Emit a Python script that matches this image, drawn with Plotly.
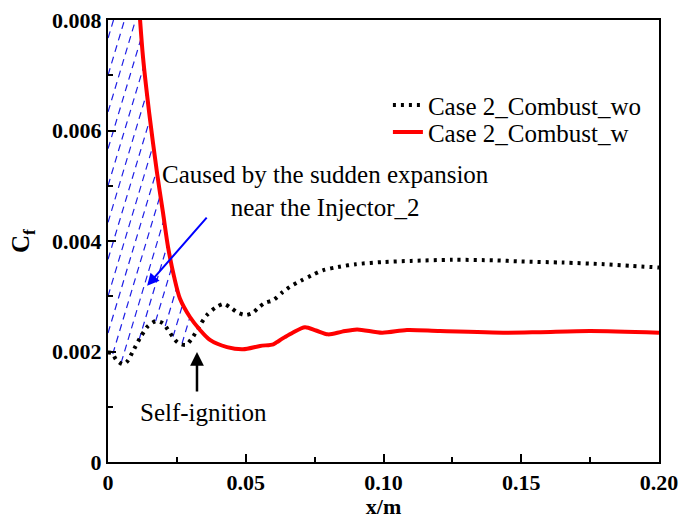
import numpy as np
import plotly.graph_objects as go

# ---- data ----
x_wo = [0, 0.0015, 0.003, 0.0054, 0.007, 0.009, 0.0116, 0.0145, 0.0174, 0.020, 0.0218,
        0.0236, 0.0254, 0.0283, 0.0305, 0.0334, 0.0359, 0.0392, 0.0421, 0.0446, 0.0472,
        0.050, 0.0526, 0.0545, 0.057, 0.060, 0.0635, 0.066, 0.070, 0.074, 0.078, 0.0835,
        0.090, 0.100, 0.110, 0.125, 0.140, 0.150, 0.165, 0.180, 0.190, 0.200]
y_wo = [0.00198, 0.00197, 0.00185, 0.00177, 0.00182, 0.00200, 0.00224, 0.00246, 0.00255,
        0.00251, 0.00239, 0.00226, 0.00216, 0.00212, 0.00224, 0.00248, 0.00266, 0.00280,
        0.00286, 0.00279, 0.00270, 0.00266, 0.00270, 0.00279, 0.00288, 0.00293, 0.00308,
        0.00317, 0.00328, 0.00338, 0.00347, 0.00353, 0.00358, 0.00362, 0.00364, 0.00366,
        0.00365, 0.00363, 0.00361, 0.00358, 0.00355, 0.00352]

x_w = [0.0115, 0.0127, 0.015, 0.0178, 0.020, 0.0218, 0.024, 0.0261, 0.0298, 0.0334, 0.037,
       0.0432, 0.049, 0.0552, 0.060, 0.0613, 0.0642, 0.067, 0.0715, 0.0755, 0.0799, 0.085,
       0.0904, 0.0995, 0.1085, 0.1205, 0.1448, 0.157, 0.175, 0.200]
y_w = [0.0081, 0.00733, 0.0063, 0.00523, 0.0045, 0.00389, 0.00335, 0.00296, 0.00262, 0.00239,
       0.00221, 0.00208, 0.00204, 0.00210, 0.00213, 0.00217, 0.00226, 0.00234, 0.00244,
       0.00238, 0.00231, 0.00236, 0.00240, 0.00234, 0.00239, 0.00237, 0.00234, 0.00235,
       0.00237, 0.00234]

x_ticks = [0, 0.05, 0.10, 0.15, 0.20]
x_ticktext = ["0", "0.05", "0.10", "0.15", "0.20"]
y_ticks = [0, 0.002, 0.004, 0.006, 0.008]
y_ticktext = ["0", "0.002", "0.004", "0.006", "0.008"]

FONT = "Liberation Serif"

# ---- hatch region (left of red curve, above black curve) ----
xw = np.array(x_w); yw = np.array(y_w)
xwo = np.array(x_wo); ywo = np.array(y_wo)

def red_at(x):
    return np.where(x < xw[0], 1.0, np.interp(x, xw, yw))

def black_at(x):
    return np.interp(x, xwo, ywo)

k = 6.0  # steepness of hatch lines (dx per dy)
hx, hy = [], []
ys = np.linspace(0, 0.008, 1200)
for c in np.arange(-0.05, 0.04, 0.004):
    xs = c + k * ys
    inside = (xs >= 0) & (ys >= black_at(xs)) & (ys <= red_at(xs)) & (ys <= 0.008)
    seg_x, seg_y = [], []
    for xi, yi, ok in zip(xs, ys, inside):
        if ok:
            seg_x.append(xi); seg_y.append(yi)
        elif seg_x:
            hx += seg_x + [None]; hy += seg_y + [None]
            seg_x, seg_y = [], []
    if seg_x:
        hx += seg_x + [None]; hy += seg_y + [None]

fig = go.Figure()
fig.add_trace(go.Scatter(x=hx, y=hy, mode="lines", showlegend=False, hoverinfo="skip",
                         line=dict(color="#1f1fe6", width=1.2, dash="7px,5px")))
fig.add_trace(go.Scatter(x=x_wo, y=y_wo, mode="lines", name="Case 2_Combust_wo",
                         legend="legend",
                         line=dict(color="black", width=4, dash="3px,5px",
                                   shape="spline", smoothing=0.8)))
fig.add_trace(go.Scatter(x=x_w, y=y_w, mode="lines", name="Case 2_Combust_w",
                         legend="legend2",
                         line=dict(color="#ff0000", width=4, shape="spline",
                                   smoothing=0.8)))

# annotations
fig.add_annotation(x=0.0791, y=0.0049, xref="x", yref="y",
                   text="Caused by the sudden expansion<br>near the Injector_2",
                   showarrow=False, align="center",
                   font=dict(family=FONT, size=25, color="black"))
fig.add_annotation(x=0.0142, y=0.00319, ax=0.0363, ay=0.00445, xref="x", yref="y",
                   axref="x", ayref="y", text="", showarrow=True, arrowhead=2,
                   arrowsize=1.2, arrowwidth=2, arrowcolor="#0000ff")
fig.add_annotation(x=0.0323, y=0.00199, ax=0.0323, ay=0.00125, xref="x", yref="y",
                   axref="x", ayref="y", text="", showarrow=True, arrowhead=2,
                   arrowsize=1.1, arrowwidth=2.5, arrowcolor="black")
fig.add_annotation(x=0.0348, y=0.00089, xref="x", yref="y", text="Self-ignition",
                   showarrow=False, font=dict(family=FONT, size=25, color="black"))

axis_common = dict(showline=True, linecolor="black", linewidth=2, mirror=True,
                   showgrid=False, zeroline=False, ticks="inside", ticklen=8,
                   tickwidth=2, tickcolor="black", automargin=False,
                   tickfont=dict(family=FONT, size=22, color="black", weight="bold"))

legend_common = dict(xanchor="left", yanchor="top", bgcolor="rgba(0,0,0,0)",
                     borderwidth=0, font=dict(family=FONT, size=25, color="black"))

fig.update_layout(
    width=694, height=519,
    margin=dict(l=108, r=35, t=20, b=57, autoexpand=False),
    plot_bgcolor="white", paper_bgcolor="white",
    xaxis=dict(range=[0, 0.2], tickvals=x_ticks, ticktext=x_ticktext,
               title=dict(text="x/m", standoff=12,
                          font=dict(family=FONT, size=22, color="black", weight="bold")),
               minor=dict(dtick=0.025, ticks="inside", ticklen=5, tickwidth=1.5,
                          tickcolor="black", tick0=0),
               **axis_common),
    yaxis=dict(range=[0, 0.008], tickvals=y_ticks, ticktext=y_ticktext,
               title=dict(text="C<sub>f</sub>", standoff=15,
                          font=dict(family=FONT, size=25, color="black", weight="bold")),
               minor=dict(dtick=0.001, ticks="inside", ticklen=5, tickwidth=1.5,
                          tickcolor="black", tick0=0),
               **axis_common),
    legend=dict(x=0.508, y=0.859, **legend_common),
    legend2=dict(x=0.508, y=0.798, **legend_common),
    showlegend=True,
)

fig.write_html("out.html")
